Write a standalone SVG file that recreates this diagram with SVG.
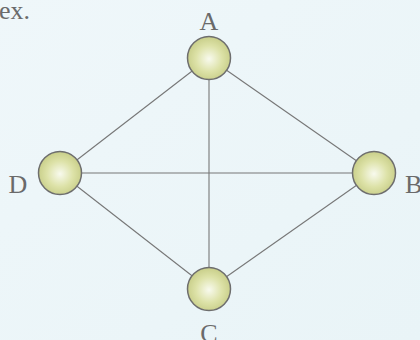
<svg xmlns="http://www.w3.org/2000/svg" width="420" height="340" viewBox="0 0 420 340">
<style>
.lbl{font-family:"Liberation Serif","DejaVu Serif",serif;font-size:26px;fill:#6a6a6a}
.edge{stroke:#777;stroke-width:1.1;fill:none}
.node{fill:url(#ng);stroke:#6e6e6e;stroke-width:1.5}
</style>
<defs>
<linearGradient id="bg" x1="0" y1="0" x2="1" y2="1">
<stop offset="0" stop-color="#eff7fa"/>
<stop offset="1" stop-color="#e9f4f7"/>
</linearGradient>
<radialGradient id="ng" cx="0.5" cy="0.52" r="0.55">
<stop offset="0" stop-color="#f8faee"/>
<stop offset="0.55" stop-color="#dde2a8"/>
<stop offset="1" stop-color="#c5cb84"/>
</radialGradient>
</defs>
<rect width="420" height="340" fill="url(#bg)"/>
<text class="lbl" x="-1" y="19">ex.</text>
<g id="connectors">
<line class="edge" x1="209" y1="58" x2="60" y2="173"/>
<line class="edge" x1="209" y1="58" x2="374" y2="173"/>
<line class="edge" x1="209" y1="58" x2="209" y2="289"/>
<line class="edge" x1="60" y1="173" x2="374" y2="173"/>
<line class="edge" x1="60" y1="173" x2="209" y2="289"/>
<line class="edge" x1="374" y1="173" x2="209" y2="289"/>
</g>
<g id="A"><circle class="node" cx="209" cy="58" r="21.5"/><text class="lbl" x="209" y="30" text-anchor="middle">A</text></g>
<g id="B"><circle class="node" cx="374" cy="173" r="21.5"/><text class="lbl" x="405" y="193">B</text></g>
<g id="C"><circle class="node" cx="209" cy="289" r="21.5"/><text class="lbl" x="209" y="342" text-anchor="middle">C</text></g>
<g id="D"><circle class="node" cx="60" cy="173" r="21.5"/><text class="lbl" x="18" y="193" text-anchor="middle">D</text></g>
</svg>
